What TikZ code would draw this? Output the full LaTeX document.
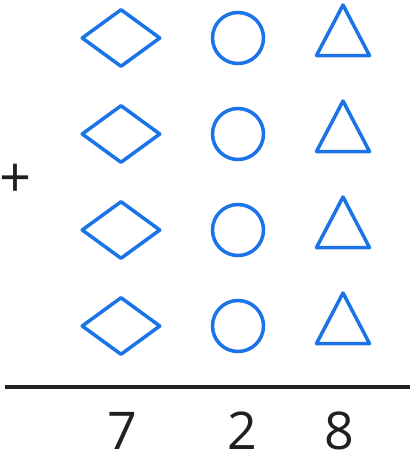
\documentclass[tikz,border=0pt]{standalone}
\usepackage{fontspec}
\setmainfont{Open Sans}
\usetikzlibrary{shapes.geometric}
\definecolor{shapeblue}{HTML}{1A73E8}
\definecolor{inkblack}{HTML}{231F20}
\begin{document}
\begin{tikzpicture}[
        x=1pt, y=-1pt,
        diamondNode/.style={diamond, draw=shapeblue, line width=3.5pt, line join=round, minimum width=79pt, minimum height=58pt, inner sep=0pt},
        circleNode/.style={circle, draw=shapeblue, line width=3.5pt, minimum size=51pt, inner sep=0pt},
        triangleLine/.style={draw=shapeblue, line width=3.5pt, line join=round},
        digitNode/.style={text=inkblack, font=\fontsize{52}{52}\selectfont, inner sep=0pt}
    ]
        \useasboundingbox (0,0) rectangle (411,463);

        % Rows of shapes
        \foreach \row/\yy in {1/38, 2/134, 3/230, 4/326} {
            \node[diamondNode] (d\row) at (121,\yy) {};
            \node[circleNode] (c\row) at (238,\yy) {};
            \coordinate (t\row) at (343,\yy);
            \draw[triangleLine] ([yshift=33pt]t\row) -- ([xshift=-26.5pt,yshift=-17.5pt]t\row)
                -- ([xshift=26.5pt,yshift=-17.5pt]t\row) -- cycle;
        }

        % Plus sign
        \node[digitNode, font=\fontsize{56}{56}\selectfont] (plus) at (16,181) {+};

        % Sum line
        \coordinate (lineL) at (5,387);
        \coordinate (lineR) at (410,387);
        \draw[inkblack, line width=3.5pt] (lineL) -- (lineR);

        % Digits
        \node[digitNode] (n7) at (122,431) {7};
        \node[digitNode] (n2) at (242,431) {2};
        \node[digitNode] (n8) at (339,431) {8};
    \end{tikzpicture}
\end{document}
